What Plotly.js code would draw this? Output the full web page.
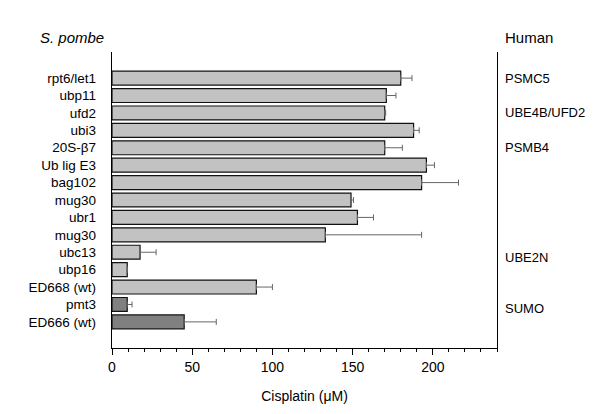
<!DOCTYPE html>
<html>
<head>
<meta charset="utf-8">
<script src="https://cdn.plot.ly/plotly-3.0.1.min.js"></script>
<style>
  html, body { margin: 0; padding: 0; background: #fff; }
  #chart { width: 600px; height: 414px; }
</style>
</head>
<body>
<div id="chart"></div>
<script>
// Data ------------------------------------------------------------------------
const strains = [
  'rpt6/let1', 'ubp11', 'ufd2', 'ubi3', '20S-β7', 'Ub lig E3', 'bag102',
  'mug30', 'ubr1', 'mug30', 'ubc13', 'ubp16', 'ED668 (wt)', 'pmt3', 'ED666 (wt)'
]
const cisplatin = [180, 171, 170, 188, 170, 196, 193, 149, 153, 133, 17.5, 9.5, 90, 9.5, 45]
const errPlus = [7, 6, 0.6, 3.5, 11, 5, 23, 1.5, 10, 60, 10, 0, 10, 3, 20]
const isDark = [false, false, false, false, false, false, false, false, false, false, false, false, false, true, true]

const humanNames = ['PSMC5', 'UBE4B/UFD2', 'PSMB4', 'UBE2N', 'SUMO']
const humanRows = [0, 2, 4, 10.3, 13.25]

// Chart -----------------------------------------------------------------------
const font = 'Arial, "Liberation Sans", sans-serif'
const rows = strains.map((_, i) => i)

const trace = {
  type: 'bar',
  orientation: 'h',
  x: cisplatin,
  y: rows,
  marker: {
    color: isDark.map(d => d ? '#808080' : '#c2c2c2'),
    line: { color: '#111', width: 1.2 }
  },
  error_x: {
    type: 'data',
    symmetric: false,
    array: errPlus,
    arrayminus: errPlus.map(() => 0),
    color: '#666',
    thickness: 1,
    width: 3
  },
  hoverinfo: 'none'
}

const annotations = humanNames.map((name, i) => ({
  text: name,
  xref: 'paper',
  yref: 'y',
  x: 1.015,
  y: humanRows[i],
  xanchor: 'left',
  yanchor: 'middle',
  showarrow: false,
  font: { family: font, size: 13, color: '#000' }
})).concat([
  {
    text: '<i>S. pombe</i>',
    xref: 'paper', yref: 'paper',
    x: -0.192, y: 1.05,
    xanchor: 'left', yanchor: 'middle',
    showarrow: false,
    font: { family: font, size: 15, color: '#000' }
  },
  {
    text: 'Human',
    xref: 'paper', yref: 'paper',
    x: 1.015, y: 1.05,
    xanchor: 'left', yanchor: 'middle',
    showarrow: false,
    font: { family: font, size: 15, color: '#000' }
  }
])

const layout = {
  width: 600,
  height: 414,
  margin: { l: 112, r: 103, t: 52, b: 66 },
  paper_bgcolor: '#fff',
  plot_bgcolor: '#fff',
  showlegend: false,
  bargap: 0.2,
  font: { family: font, size: 13, color: '#000' },
  xaxis: {
    range: [0, 240],
    tickvals: [0, 50, 100, 150, 200],
    ticks: 'outside',
    ticklen: 6,
    tickwidth: 1,
    tickcolor: '#000',
    minor: { dtick: 10, ticks: 'outside', ticklen: 3, tickcolor: '#000', tickwidth: 1 },
    showline: true,
    linecolor: '#000',
    linewidth: 1.3,
    showgrid: false,
    zeroline: false,
    tickfont: { family: font, size: 14 },
    title: { text: 'Cisplatin (μM)', font: { family: font, size: 14 }, standoff: 17 }
  },
  yaxis: {
    range: [15.5, -1.5],
    tickvals: rows,
    ticktext: strains,
    ticks: '',
    ticklabelstandoff: 12,
    showline: true,
    mirror: true,
    linecolor: '#000',
    linewidth: 1.3,
    showgrid: false,
    zeroline: false,
    tickfont: { family: font, size: 13.5 }
  },
  annotations: annotations
}

Plotly.newPlot('chart', [trace], layout, { staticPlot: true })
</script>
</body>
</html>
